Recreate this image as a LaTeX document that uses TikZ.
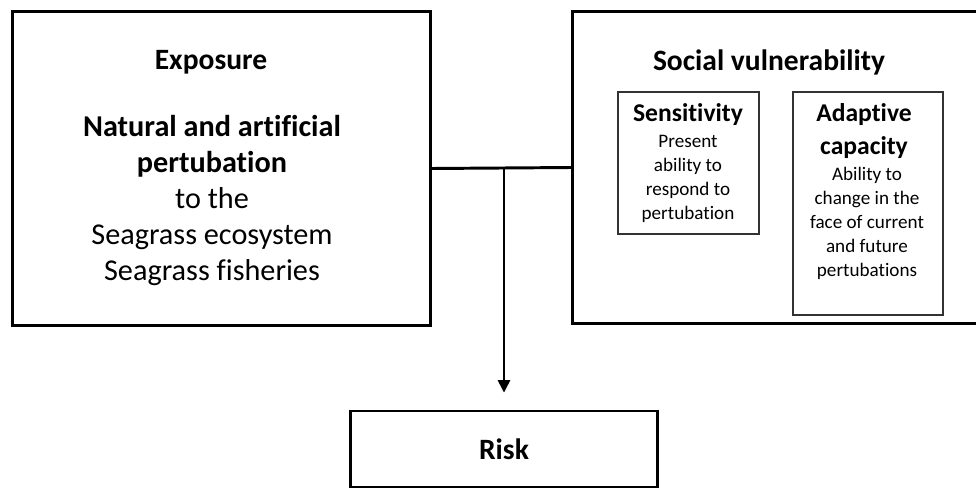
\documentclass[tikz,border=0pt]{standalone}
\usepackage{fontspec}
\setmainfont{Carlito}[Ligatures=NoCommon]
\usepackage{tikz}
\usetikzlibrary{arrows.meta}

\begin{document}
\begin{tikzpicture}[x=0.025cm, y=-0.025cm,
  outerbox/.style={draw=black, line width=2.1pt, inner sep=0pt},
  innerbox/.style={draw=black!80, line width=0.8pt, inner sep=0pt},
  bigtext/.style={font=\fontsize{21.5}{25.6}\selectfont, align=center, inner sep=0pt},
  headtext/.style={font=\fontsize{18.2}{23.5}\selectfont\bfseries, align=center, inner sep=0pt},
  smalltext/.style={font=\fontsize{13.6}{17.2}\selectfont, align=center, inner sep=0pt}]
\clip (0,0) rectangle (976,488);
\fill[white] (0,0) rectangle (976,488);
% boxes
\node[outerbox, minimum width=10.425cm, minimum height=7.825cm] (exposure) at (221.5,168.5) {};
\node[outerbox, minimum width=10.675cm, minimum height=7.775cm] (social) at (786.5,167.5) {};
\node[innerbox, minimum width=3.525cm, minimum height=3.55cm] (sensbox) at (688.5,163) {};
\node[innerbox, minimum width=3.75cm, minimum height=5.575cm] (adaptbox) at (868,203.5) {};
\node[outerbox, minimum width=7.65cm, minimum height=1.9cm, bigtext, font=\fontsize{21}{25.6}\selectfont\bfseries] (risk) at (504,449) {Risk};
% texts
\node[bigtext, font=\fontsize{21}{25.6}\selectfont\bfseries] (exptitle) at (211,62) {Exposure};
\node[bigtext] (expbody) at (212,200) {\textbf{Natural and artificial}\\ \textbf{pertubation}\\ to the\\ Seagrass ecosystem\\ Seagrass fisheries};
\node[bigtext, font=\fontsize{21}{25.6}\selectfont\bfseries] (soctitle) at (769,62) {Social vulnerability};
\node[headtext] (senstitle) at (688,115) {Sensitivity};
\node[smalltext] (sensbody) at (688,179) {Present\\ ability to\\ respond to\\ pertubation};
\node[headtext] (adapttitle) at (864,131.5) {Adaptive\\ capacity};
\node[smalltext] (adaptbody) at (867,223.5) {Ability to\\ change in the\\ face of current\\ and future\\ pertubations};
% connectors
\coordinate (join) at (risk.north |- exposure.east);
\draw[line width=2.1pt] (exposure.east) -- (social.west);
\draw[line width=2.1pt, -{Triangle[length=9pt, width=8.5pt]}, shorten >=0.42cm] (join) -- (risk.north);
\end{tikzpicture}
\end{document}
